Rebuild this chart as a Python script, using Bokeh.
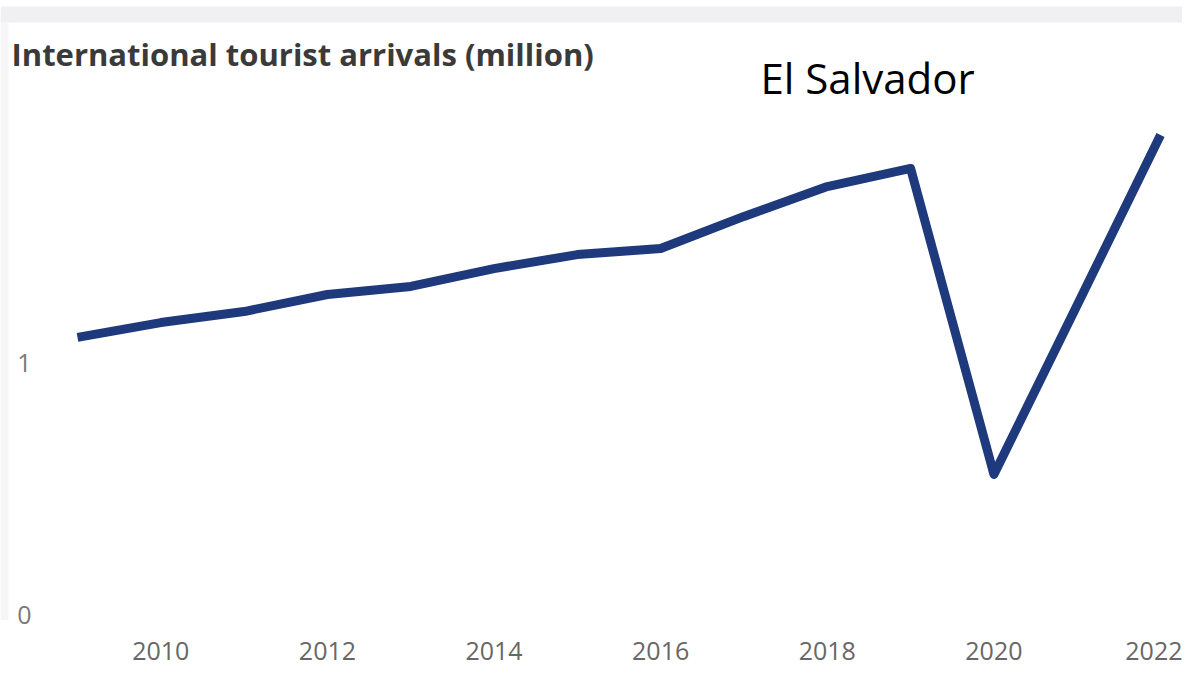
from bokeh.plotting import figure
from bokeh.models import FixedTicker, Label, BoxAnnotation, Range1d
from bokeh.embed import file_html
from bokeh.resources import INLINE

# Data
years = [2009, 2010, 2011, 2012, 2013, 2014, 2015, 2016, 2017, 2018, 2019, 2020, 2021, 2022]
arrivals = [1.104, 1.163, 1.207, 1.275, 1.307, 1.378, 1.434, 1.458, 1.586, 1.705, 1.777, 0.558, 1.233, 1.91]
x_ticks = [2010, 2012, 2014, 2016, 2018, 2020, 2022]
y_ticks = [0, 1]
chart_title = "International tourist arrivals (million)"
country = "El Salvador"

W, H = 1182, 665
X0, X1 = 2008.0757, 2022.2637
Y0, Y1 = -0.0239, 2.4462
p = figure(width=W, height=H, output_backend="svg", toolbar_location=None,
           x_range=Range1d(X0, X1), y_range=Range1d(Y0, Y1),
           min_border_left=0, min_border_right=0, min_border_top=0, min_border_bottom=45)
p.outline_line_color = None
p.background_fill_color = "white"
p.border_fill_color = "white"
p.xgrid.visible = False
p.ygrid.visible = False

# light screenshot chrome (top band and left strip)
p.add_layout(BoxAnnotation(bottom=2.3586, top=2.4223, fill_color="#f0f0f2", fill_alpha=1.0, line_alpha=0))
p.add_layout(BoxAnnotation(right=X0 + 8 / 83.31, top=2.3586, fill_color="#f6f6f7", fill_alpha=1.0, line_alpha=0))

p.line(years, arrivals, line_color="#1e3a7d", line_width=9, line_join="round", line_cap="butt")

for ax in (p.xaxis[0], p.yaxis[0]):
    ax.axis_line_color = None
    ax.major_tick_line_color = None
    ax.minor_tick_line_color = None
    ax.major_tick_out = 0
    ax.major_tick_in = 0
    ax.minor_tick_out = 0
    ax.major_label_text_font = "Open Sans"
    ax.major_label_text_font_size = "25px"

p.xaxis.major_label_text_color = "#676767"
p.yaxis.major_label_text_color = "#7a7a7a"
p.xaxis.ticker = FixedTicker(ticks=x_ticks)
p.yaxis.ticker = FixedTicker(ticks=y_ticks)
p.xaxis.major_label_text_line_height = 1.0
p.xaxis.major_label_standoff = 21
p.yaxis.major_label_standoff = -31

t = Label(x=2008.2077, y=2.235, text=chart_title, text_font="Open Sans", text_font_style="bold",
          text_font_size="31px", text_color="#3a3a3a", text_baseline="alphabetic", text_align="left")
p.add_layout(t)
c = Label(x=2017.198, y=2.1394, text=country, text_font="Open Sans",
          text_font_size="42px", text_color="#000000", text_baseline="alphabetic", text_align="left")
p.add_layout(c)

open("out.html", "w").write(file_html(p, INLINE))
